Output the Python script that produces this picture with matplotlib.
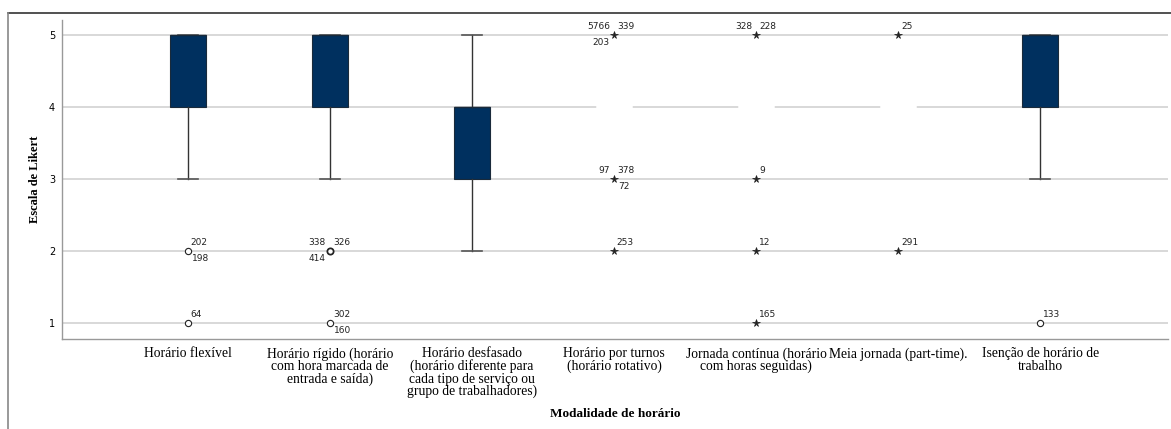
import matplotlib.pyplot as plt
import matplotlib.lines as mlines

# categories (x axis)
categories = [
    "Horário flexível",
    "Horário rígido (horário\ncom hora marcada de\nentrada e saída)",
    "Horário desfasado\n(horário diferente para\ncada tipo de serviço ou\ngrupo de trabalhadores)",
    "Horário por turnos\n(horário rotativo)",
    "Jornada contínua (horário\ncom horas seguidas)",
    "Meia jornada (part-time).",
    "Isenção de horário de\ntrabalho",
]

# box statistics
q1 = [4, 4, 3, 4, 4, 4, 4]
med = [5, 5, 4, 4, 4, 4, 5]
q3 = [5, 5, 4, 4, 4, 4, 5]
whis_lo = [3, 3, 2, 4, 4, 4, 3]
whis_hi = [5, 5, 5, 4, 4, 4, 5]

# outliers (circles) and extremes (stars): (category, value, case labels)
outliers = [
    (0, 2, ["202", "198"]),
    (0, 1, ["64"]),
    (1, 2, ["338", "326", "414"]),
    (1, 1, ["302", "160"]),
    (6, 1, ["133"]),
]
extremes = [
    (3, 5, ["5766", "339", "203"]),
    (3, 3, ["97", "378", "72"]),
    (3, 2, ["253"]),
    (4, 5, ["328", "228"]),
    (4, 3, ["9"]),
    (4, 2, ["12"]),
    (4, 1, ["165"]),
    (5, 5, ["25"]),
    (5, 2, ["291"]),
]

# label placement (offset in points) for 1, 2, 3 labels around a point
label_offsets = {
    1: [(2, 3, "left", "bottom")],
    2: [(2, 3, "left", "bottom"), (3, -2, "left", "top")],
    3: [(-3, 3, "right", "bottom"), (2, 3, "left", "bottom"), (-3, -2, "right", "top")],
}
# special placements
special = {
    (3, 3): [(-3, 3, "right", "bottom"), (2, 3, "left", "bottom"), (3, -2, "left", "top")],
    (4, 5): [(-3, 3, "right", "bottom"), (2, 3, "left", "bottom")],
}

navy = "#00305f"
fig = plt.figure(figsize=(11.71, 4.29), dpi=100)
ax = fig.add_axes([62 / 1171, 1 - 339 / 429, 1 - 62 / 1171 - 3 / 1171, (339 - 20) / 429])

stats = []
for i in range(len(categories)):
    stats.append(dict(med=med[i], q1=q1[i], q3=q3[i], whislo=whis_lo[i],
                      whishi=whis_hi[i], fliers=[]))
bp = ax.bxp(stats, positions=range(len(categories)), widths=0.254,
            patch_artist=True, showfliers=False,
            boxprops=dict(facecolor=navy, edgecolor="#1a2a3a", linewidth=0.8),
            medianprops=dict(color="#1a2a3a", linewidth=1),
            whiskerprops=dict(color="#333333", linewidth=1),
            capprops=dict(color="#555555", linewidth=1.2),
            capwidths=0.14)

# zero-height boxes show as a white gap in the gridline
for i in range(len(categories)):
    if q1[i] == q3[i]:
        bp["boxes"][i].set_edgecolor("white")
        bp["boxes"][i].set_linewidth(2.5)
        bp["medians"][i].set_color("white")
        bp["medians"][i].set_linewidth(2.5)
        for art in bp["whiskers"][2 * i:2 * i + 2] + bp["caps"][2 * i:2 * i + 2]:
            art.set_color("white")
            art.set_linewidth(2.5)
for art in bp["boxes"] + bp["medians"] + bp["whiskers"] + bp["caps"]:
    art.set_zorder(3)


def draw_points(points, marker, size, lw, face):
    for cat, val, labels in points:
        bold = len(labels) >= 3 and marker == "o"
        ax.plot(cat, val, marker=marker, ms=size, mfc=face, mec="#222222",
                mew=lw * (1.6 if bold else 1), ls="none", zorder=4)
        offs = special.get((cat, val), label_offsets[len(labels)])
        for lab, (dx, dy, ha, va) in zip(labels, offs):
            ax.annotate(lab, (cat, val), xytext=(dx, dy), textcoords="offset points",
                        ha=ha, va=va, fontsize=6.5, family="DejaVu Sans",
                        color="#222222", zorder=5)


draw_points(outliers, "o", 4.5, 0.8, "white")
draw_points(extremes, "*", 5.5, 0.5, "#222222")

ax.set_xlim(-0.887, 6.9)
ax.set_ylim(0.78, 5.21)
ax.set_yticks([1, 2, 3, 4, 5])
ax.set_xticks(range(len(categories)))
ax.set_xticklabels(categories, family="Liberation Serif", fontsize=9.8, linespacing=0.92)
ax.tick_params(axis="y", length=0, labelsize=7, pad=5)
ax.tick_params(axis="x", length=0, pad=6)
ax.grid(axis="y", color="#d6d6d6", linewidth=1.3, zorder=0)
ax.set_axisbelow(True)
for s in ["top", "right"]:
    ax.spines[s].set_visible(False)
for s in ["left", "bottom"]:
    ax.spines[s].set_color("#999999")
    ax.spines[s].set_linewidth(1)

ax.set_ylabel("Escala de Likert", family="Liberation Serif", fontweight="bold",
              fontsize=9, labelpad=5.5)
fig.text(615 / 1171, 1 - 414 / 429, "Modalidade de horário", family="Liberation Serif",
         fontweight="bold", fontsize=9.5, ha="center", va="center")

# outer frame of the screenshot
fig.add_artist(mlines.Line2D([8 / 1171, 1], [1 - 13 / 429, 1 - 13 / 429],
                             color="#333333", linewidth=1.2, transform=fig.transFigure))
fig.add_artist(mlines.Line2D([8 / 1171, 8 / 1171], [0, 1 - 13 / 429],
                             color="#888888", linewidth=1.2, transform=fig.transFigure))

fig.savefig("out.png", dpi=100)
